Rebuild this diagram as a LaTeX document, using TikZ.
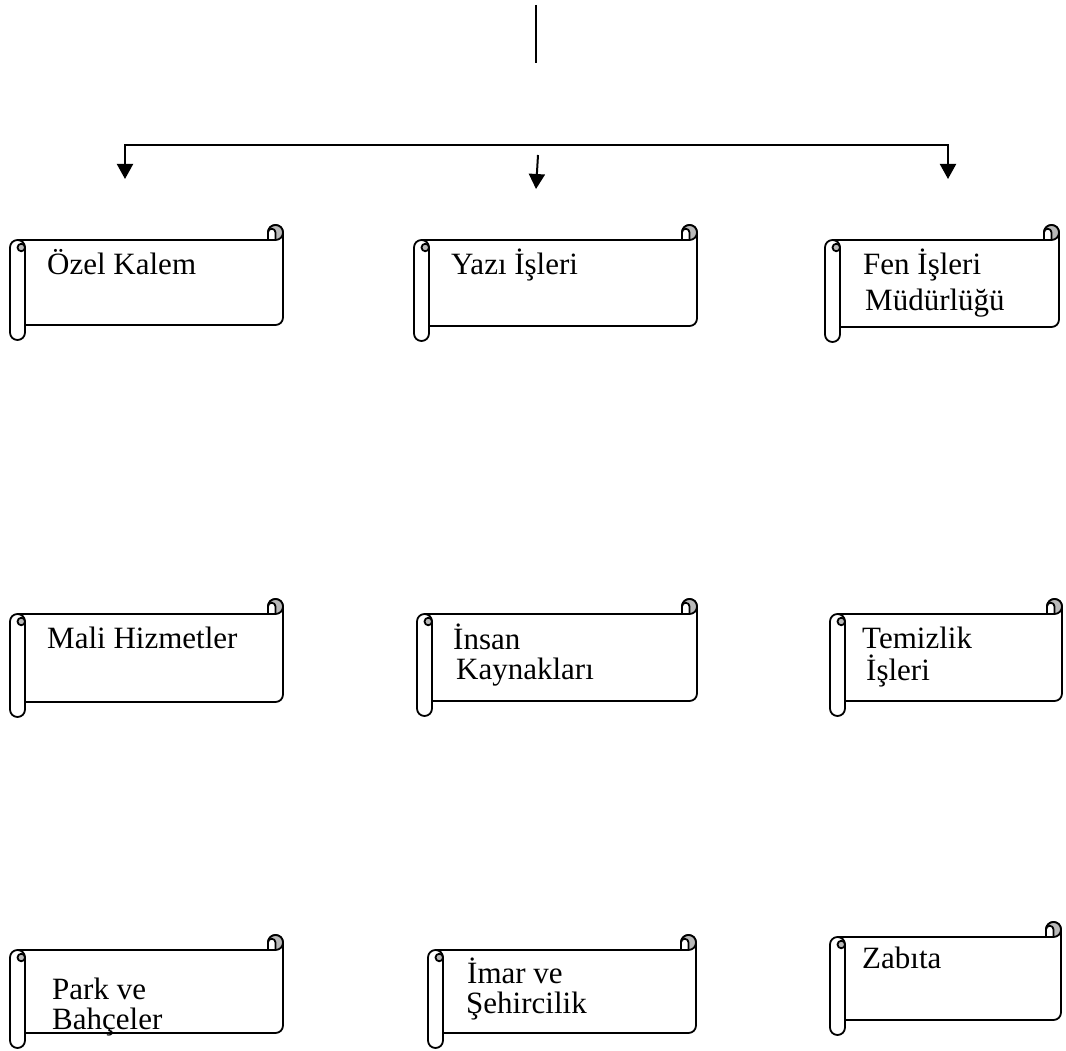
\documentclass[tikz,border=0pt]{standalone}
\usepackage{fontspec}
\setmainfont{Liberation Serif}
\usetikzlibrary{arrows.meta}
\definecolor{curlgray}{RGB}{185,185,185}
\tikzset{
  scrollline/.style={line width=1.8pt, line join=round},
  lbl/.style={anchor=base west, inner sep=0pt, font=\fontsize{31}{35}\selectfont},
  conn/.style={line width=2pt},
  tipped/.style={conn, -{Triangle[length=15pt,width=16pt]}},
}
\newcommand\drawscroll[4]{%
  \filldraw[scrollline, fill=white] (#1,#2+22.5) arc[start angle=180,end angle=270,radius=7.5]
    -- (#3-15,#2+15) -- (#3-15,#2+7.5) arc[start angle=180,end angle=360,radius=7.5]
    -- (#3,#4-22.5) arc[start angle=0,end angle=90,radius=7.5]
    -- (#1+15,#4-15) -- (#1+15,#4-7.5) arc[start angle=0,end angle=180,radius=7.5] -- cycle;
  \draw[scrollline] (#1+7.5,#2+15) arc[start angle=270,end angle=360,radius=7.5] -- (#1+15,#4-15);
  \filldraw[scrollline, fill=curlgray] (#1+11.25,#2+22.5) circle[radius=3.75];
  \filldraw[scrollline, fill=curlgray] (#3-7.5,#2+7.5) circle[radius=7.5];
  \filldraw[scrollline, fill=white] (#3-15,#2+15) -- (#3-15,#2+7.5)
    arc[start angle=180,end angle=360,radius=3.75] -- (#3-7.5,#2+15) -- cycle;
}
\begin{document}
\begin{tikzpicture}[x=1pt,y=-1pt]
\useasboundingbox[fill=white] (0,0) rectangle (1066,1051);

% connectors
\coordinate (topA) at (536,5);
\coordinate (topB) at (536,63);
\draw[line width=2.5pt] (topA) -- (topB);
\coordinate (cornerL) at (125,145);
\coordinate (cornerR) at (948,145);
\coordinate (tipL) at (125,179);
\coordinate (tipR) at (948,179);
\draw[conn, {Triangle[length=15pt,width=16pt]}-{Triangle[length=15pt,width=16pt]}] (tipL) -- (cornerL) -- (cornerR) -- (tipR);
\coordinate (midA) at (538,155);
\coordinate (midB) at (536,189);
\draw[tipped] (midA) -- (midB);

% scrolls
\drawscroll{10}{225}{283}{340}
\drawscroll{414}{225}{697}{341}
\drawscroll{825}{225}{1059}{342}
\drawscroll{10}{599}{283}{717}
\drawscroll{417}{599}{697}{716}
\drawscroll{830}{599}{1062}{716}
\drawscroll{10}{935}{283}{1048}
\drawscroll{428}{935}{696}{1048}
\drawscroll{830}{922}{1061}{1035}

% labels
\node[lbl] (t1) at (47,274) {Özel Kalem};
\node[lbl] (t2) at (451,274) {Yazı İşleri};
\node[lbl] (t3a) at (863,275) {Fen İşleri};
\node[lbl] (t3b) at (865,310) {Müdürlüğü};
\node[lbl] (t4) at (47,648) {Mali Hizmetler};
\node[lbl] (t5a) at (453,649) {İnsan};
\node[lbl] (t5b) at (456,679) {Kaynakları};
\node[lbl] (t6a) at (862,648) {Temizlik};
\node[lbl] (t6b) at (866,680) {İşleri};
\node[lbl] (t7a) at (52,999) {Park ve};
\node[lbl] (t7b) at (52,1029) {Bahçeler};
\node[lbl] (t8a) at (467,983) {İmar ve};
\node[lbl] (t8b) at (466,1013) {Şehircilik};
\node[lbl] (t9) at (862,968) {Zabıta};
\end{tikzpicture}
\end{document}
